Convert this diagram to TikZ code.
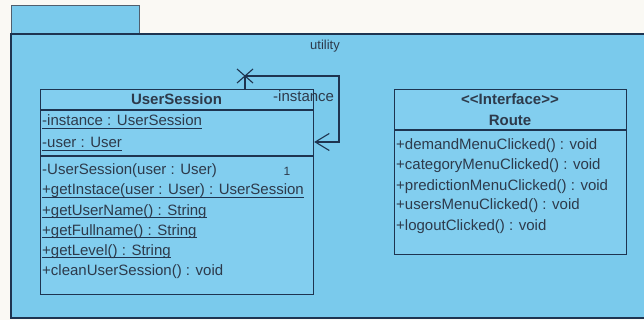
\documentclass[tikz,border=0pt]{standalone}
\usepackage{fontspec}
\setmainfont{Liberation Sans}
\usetikzlibrary{arrows.meta}
\definecolor{bgc}{RGB}{250,249,244}
\definecolor{pkgfill}{RGB}{122,202,236}
\definecolor{clsfill}{RGB}{130,206,239}
\definecolor{edgec}{RGB}{30,52,80}
\definecolor{tabedge}{RGB}{80,95,110}
\definecolor{txtc}{RGB}{45,58,75}
\newcommand\myul[1]{\setbox0\hbox{#1}\rlap{\color{edgec}\rule[-3pt]{\wd0}{1.1pt}}\box0}
\begin{document}
\begin{tikzpicture}[x=1pt,y=-1pt,
  txt/.style={inner sep=0pt, anchor=base west, text=txtc, font=\fontsize{15}{18}\selectfont},
  hdr/.style={inner sep=0pt, anchor=base, text=txtc, font=\fontsize{15}{18}\selectfont\bfseries},
  clsbox/.style={draw=edgec, fill=clsfill, line width=1.2pt, inner sep=0pt, anchor=north west},
  sep/.style={draw=edgec, line width=1.2pt},
  assoc/.style={draw=edgec, line width=1.1pt}]
\useasboundingbox (0,0) rectangle (644,320);
\fill[bgc] (0,0) rectangle (644,320);
\begin{scope}
\clip (0,0) rectangle (644,320);
% package
\draw[fill=pkgfill, draw=tabedge, line width=1pt] (11,6) rectangle (139,34);
\draw[fill=pkgfill, draw=edgec, line width=1.2pt] (11,34) rectangle (660,318);
\end{scope}
\node[txt, anchor=base, font=\fontsize{13}{15}\selectfont] (pkgname) at (325,50) {utility};

% UserSession class
\node[clsbox, minimum width=273pt, minimum height=205pt] (us) at (40,89) {};
\draw[sep] (40,110) -- (313,110);
\draw[sep] (40,156) -- (313,156);
\node[hdr] (usname) at (176.5,105) {UserSession};
\node[txt] (a1) at (42,126) {\myul{-instance : UserSession}};
\node[txt] (a2) at (42,148) {\myul{-user : User}};
\node[txt] (o1) at (42,175) {-UserSession(user : User)};
\node[txt] (o2) at (42,195) {\myul{+getInstace(user : User) : UserSession}};
\node[txt] (o3) at (42,215) {\myul{+getUserName() : String}};
\node[txt] (o4) at (42,235) {\myul{+getFullname() : String}};
\node[txt] (o5) at (42,255) {\myul{+getLevel() : String}};
\node[txt] (o6) at (42,275) {+cleanUserSession() : void};

% Route interface
\node[clsbox, minimum width=232pt, minimum height=165pt] (rt) at (394,89) {};
\draw[sep] (394,130) -- (626,130);
\node[hdr] (rst) at (510,105) {<\kern0pt<Interface>\kern0pt>};
\node[hdr] (rname) at (510,126) {Route};
\node[txt] (r1) at (396,150) {+demandMenuClicked() : void};
\node[txt] (r2) at (396,170) {+categoryMenuClicked() : void};
\node[txt] (r3) at (396,190) {+predictionMenuClicked() : void};
\node[txt] (r4) at (396,210) {+usersMenuClicked() : void};
\node[txt] (r5) at (396,230) {+logoutClicked() : void};

% self association
\coordinate (c1) at (245,76);
\coordinate (c2) at (339,76);
\coordinate (c3) at (339,142);
\draw[assoc, -{Straight Barb[length=14pt,width=17pt,line width=1.1pt]}]
  (us.north -| c1) -- (c1) -- (c2) -- (c3) -- (us.east |- c3);
\draw[assoc] (c1) ++(-8,-7) -- ++(16,14);
\draw[assoc] (c1) ++(-8,7) -- ++(16,-14);
\node[txt] (rolelab) at (273,102) {-instance};
\node[txt, anchor=base, font=\fontsize{12}{14}\selectfont] (mult) at (287,176) {1};
\end{tikzpicture}
\end{document}
